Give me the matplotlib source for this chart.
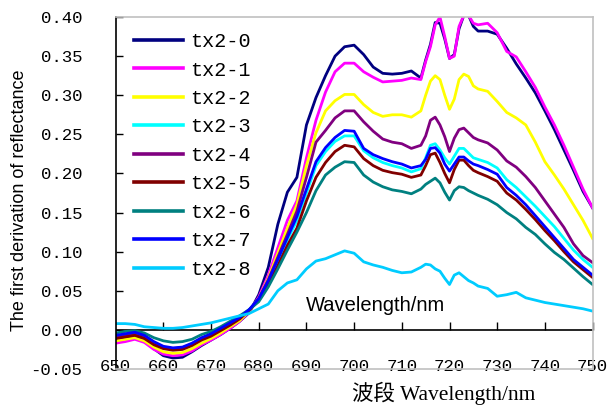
import numpy as np
import matplotlib
matplotlib.use("Agg")
import matplotlib.pyplot as plt

# Wavelength grid (nm): 2 nm steps, 1 nm around the 715-725 red-edge peaks
wavelength = (list(range(650, 714, 2)) + list(range(714, 726, 1)) +
              list(range(726, 751, 2)))

# First derivative of reflectance for each sample
tx2_0 = [-0.012, -0.010, -0.009, -0.014, -0.024, -0.033, -0.036, -0.035, -0.028, -0.020,
         -0.013, -0.006, 0.002, 0.011, 0.022, 0.045, 0.080, 0.135, 0.176, 0.195,
         0.262, 0.297, 0.325, 0.350, 0.362, 0.364, 0.352, 0.336, 0.328, 0.327,
         0.328, 0.331,
         0.322, 0.345, 0.365, 0.393, 0.392, 0.372, 0.347, 0.352, 0.385, 0.402, 0.402, 0.388,
         0.382, 0.382, 0.378, 0.360, 0.340, 0.322, 0.303, 0.280, 0.256, 0.230, 0.204, 0.177, 0.156]
tx2_1 = [-0.017, -0.015, -0.012, -0.016, -0.025, -0.031, -0.033, -0.032, -0.027, -0.019,
         -0.013, -0.006, 0.002, 0.011, 0.023, 0.042, 0.070, 0.105, 0.140, 0.165,
         0.220, 0.268, 0.304, 0.330, 0.341, 0.341, 0.330, 0.323, 0.317, 0.318,
         0.319, 0.322,
         0.320, 0.343, 0.362, 0.390, 0.400, 0.375, 0.347, 0.350, 0.388, 0.402, 0.402, 0.392,
         0.390, 0.392, 0.380, 0.356, 0.349, 0.330, 0.310, 0.285, 0.262, 0.236, 0.208, 0.180, 0.156]
tx2_2 = [-0.014, -0.012, -0.010, -0.014, -0.022, -0.028, -0.030, -0.029, -0.024, -0.017,
         -0.011, -0.004, 0.004, 0.012, 0.024, 0.040, 0.066, 0.098, 0.130, 0.160,
         0.210, 0.252, 0.280, 0.293, 0.301, 0.301, 0.288, 0.278, 0.273, 0.275,
         0.275, 0.272,
         0.280, 0.300, 0.318, 0.325, 0.320, 0.300, 0.282, 0.295, 0.320, 0.327, 0.324, 0.312,
         0.308, 0.305, 0.292, 0.278, 0.271, 0.262, 0.240, 0.215, 0.198, 0.180, 0.160, 0.140, 0.117]
tx2_3 = [-0.008, -0.006, -0.004, -0.008, -0.016, -0.022, -0.024, -0.023, -0.018, -0.011,
         -0.006, 0.001, 0.008, 0.015, 0.026, 0.039, 0.061, 0.088, 0.115, 0.140,
         0.175, 0.210, 0.228, 0.241, 0.248, 0.248, 0.229, 0.220, 0.214, 0.210,
         0.207, 0.202,
         0.206, 0.220, 0.236, 0.238, 0.230, 0.220, 0.212, 0.222, 0.232, 0.232, 0.226, 0.220,
         0.218, 0.214, 0.207, 0.192, 0.182, 0.170, 0.158, 0.145, 0.132, 0.117, 0.102, 0.090, 0.080]
tx2_4 = [-0.009, -0.007, -0.005, -0.009, -0.017, -0.022, -0.024, -0.023, -0.018, -0.011,
         -0.006, 0.001, 0.008, 0.015, 0.025, 0.040, 0.064, 0.093, 0.122, 0.152,
         0.195, 0.240, 0.255, 0.271, 0.280, 0.280, 0.266, 0.254, 0.244, 0.240,
         0.238, 0.232,
         0.236, 0.248, 0.268, 0.272, 0.262, 0.247, 0.228, 0.245, 0.256, 0.258, 0.252, 0.246,
         0.243, 0.239, 0.230, 0.216, 0.208, 0.196, 0.182, 0.165, 0.148, 0.131, 0.110, 0.095, 0.086]
tx2_5 = [-0.011, -0.009, -0.007, -0.011, -0.019, -0.024, -0.026, -0.025, -0.020, -0.013,
         -0.008, -0.001, 0.006, 0.014, 0.025, 0.038, 0.058, 0.082, 0.108, 0.130,
         0.165, 0.195, 0.214, 0.228, 0.236, 0.234, 0.219, 0.210, 0.204, 0.201,
         0.199, 0.195,
         0.198, 0.210, 0.224, 0.226, 0.214, 0.200, 0.188, 0.205, 0.217, 0.217, 0.210, 0.204,
         0.201, 0.196, 0.190, 0.175, 0.166, 0.154, 0.141, 0.127, 0.114, 0.100, 0.087, 0.077, 0.067]
tx2_6 = [-0.004, -0.002, -0.001, -0.004, -0.010, -0.014, -0.016, -0.015, -0.012, -0.006,
         -0.002, 0.004, 0.011, 0.018, 0.026, 0.036, 0.055, 0.078, 0.102, 0.125,
         0.150, 0.178, 0.198, 0.208, 0.215, 0.214, 0.198, 0.189, 0.183, 0.179,
         0.177, 0.174,
         0.180, 0.186, 0.190, 0.194, 0.188, 0.176, 0.166, 0.178, 0.183, 0.182, 0.178, 0.175,
         0.172, 0.167, 0.160, 0.150, 0.142, 0.131, 0.122, 0.110, 0.099, 0.090, 0.079, 0.068, 0.058]
tx2_7 = [-0.007, -0.005, -0.003, -0.007, -0.015, -0.021, -0.023, -0.022, -0.017, -0.010,
         -0.005, 0.002, 0.009, 0.016, 0.026, 0.040, 0.063, 0.090, 0.118, 0.145,
         0.180, 0.215, 0.233, 0.246, 0.255, 0.254, 0.232, 0.224, 0.219, 0.215,
         0.212, 0.207,
         0.210, 0.218, 0.232, 0.233, 0.226, 0.212, 0.203, 0.212, 0.221, 0.221, 0.216, 0.212,
         0.210, 0.205, 0.199, 0.182, 0.172, 0.160, 0.146, 0.132, 0.118, 0.104, 0.090, 0.080, 0.070]
tx2_8 = [0.008, 0.008, 0.007, 0.004, 0.003, 0.002, 0.002, 0.003, 0.005, 0.007,
         0.009, 0.012, 0.015, 0.018, 0.021, 0.027, 0.033, 0.050, 0.060, 0.064,
         0.078, 0.088, 0.091, 0.096, 0.101, 0.098, 0.087, 0.083, 0.080, 0.076,
         0.073, 0.074,
         0.080, 0.084, 0.083, 0.078, 0.075, 0.066, 0.058, 0.070, 0.073, 0.068, 0.063, 0.060,
         0.056, 0.053, 0.043, 0.045, 0.048, 0.041, 0.038, 0.035, 0.033, 0.031, 0.029, 0.027, 0.024]

series = [tx2_0, tx2_1, tx2_2, tx2_3, tx2_4, tx2_5, tx2_6, tx2_7, tx2_8]
labels = ["tx2-0", "tx2-1", "tx2-2", "tx2-3", "tx2-4", "tx2-5", "tx2-6", "tx2-7", "tx2-8"]
colors = ["#000080", "#FF00FF", "#FFFF00", "#00FFFF", "#800080",
          "#800000", "#008080", "#0000FF", "#00CCFF"]

xticks = list(range(650, 751, 10))
yticks = [-0.05, 0.00, 0.05, 0.10, 0.15, 0.20, 0.25, 0.30, 0.35, 0.40]

mono = "Liberation Mono"

fig = plt.figure(figsize=(6.09, 4.07), dpi=100)
ax = fig.add_axes([0.190, 0.0934, 0.783, 0.8648])

for vals, lab, col in zip(series, labels, colors):
    ax.plot(wavelength, vals, color=col, lw=2.0, label=lab)

ax.set_xlim(650, 750)
ax.set_ylim(-0.05, 0.40)

# plot-area frame: black value axis, grey border elsewhere
for side in ["top", "right", "bottom"]:
    ax.spines[side].set_color("#c0c0c0")
    ax.spines[side].set_linewidth(1.2)
ax.spines["left"].set_color("black")
ax.spines["left"].set_linewidth(1.2)

ax.set_yticks(yticks)
ax.set_yticklabels(["%.2f" % v for v in yticks], fontfamily=mono, fontsize=12.5)
ax.tick_params(axis="y", direction="in", length=5, width=1, pad=24)

ax.set_xticks(xticks)
ax.set_xticklabels([str(v) for v in xticks], fontfamily=mono, fontsize=12.5)
ax.tick_params(axis="x", length=0, pad=-7)

# category axis crossing at zero, ticks pointing up
ax.axhline(0, color="black", lw=1.2, zorder=1)
zero_pos = (0 - (-0.05)) / (0.40 - (-0.05))
sec = ax.secondary_xaxis(zero_pos)
sec.set_xticks(xticks[1:])
sec.tick_params(direction="in", length=6, width=1, labelbottom=False, labeltop=False)
sec.spines["bottom"].set_visible(False)
sec.spines["top"].set_visible(False)

leg = ax.legend(loc="upper left", bbox_to_anchor=(0.004, 1.003), frameon=False,
                prop={"family": mono, "size": 14.5}, handlelength=2.45,
                handletextpad=0.33, labelspacing=0.47, borderpad=0.3)
for h in leg.get_lines():
    h.set_linewidth(2.6)

ax.text(0.399, 0.179, "Wavelength/nm", transform=ax.transAxes, fontsize=14.5,
        fontfamily="Liberation Sans", va="center", ha="left")

fig.text(20 / 609, 1 - 200 / 407, "The first derivation of reflectance",
         rotation=90, ha="center", va="center", fontsize=13,
         fontfamily="Liberation Sans")

fig.text(444 / 609, 1 - 393 / 407, "波段 Wavelength/nm", ha="center", va="center",
         fontsize=15.5, family=["Liberation Serif", "Noto Sans CJK SC"])

fig.savefig("out.png", dpi=100)
